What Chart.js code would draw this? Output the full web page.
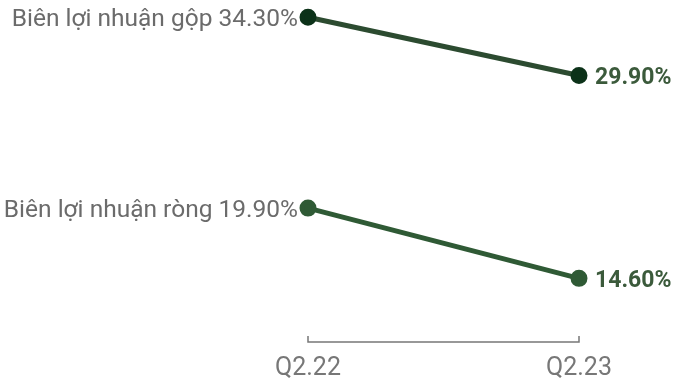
<!DOCTYPE html>
<html>
<head>
<meta charset="utf-8">
<script src="https://cdn.jsdelivr.net/npm/chart.js@4"></script>
<style>
  html, body { margin: 0; padding: 0; background: #fff; }
  #wrap { width: 691px; height: 385px; }
</style>
</head>
<body>
<div id="wrap"><canvas id="slope"></canvas></div>
<script>
const quarters = ["Q2.22", "Q2.23"]
const grossMargin = [34.30, 29.90]
const netMargin = [19.90, 14.60]
const seriesNames = ["Biên lợi nhuận gộp", "Biên lợi nhuận ròng"]

const fmt = v => v.toFixed(2) + "%"

// labels at both ends of each line + bracket-style x axis
const slopeLabels = {
    id: "slopeLabels",
    afterDatasetsDraw(chart) {
        const ctx = chart.ctx
        ctx.save()
        chart.data.datasets.forEach((ds, i) => {
            const pts = chart.getDatasetMeta(i).data
            ctx.textBaseline = "middle"
            ctx.font = "24.5px Roboto"
            ctx.fillStyle = "#6b6b6b"
            ctx.textAlign = "right"
            ctx.fillText(seriesNames[i] + " " + fmt(ds.data[0]), pts[0].x - 10, pts[0].y + 3)
            ctx.font = "bold 23px Roboto"
            ctx.fillStyle = "#3b5a3b"
            ctx.textAlign = "left"
            ctx.fillText(fmt(ds.data[1]), pts[1].x + 16, pts[1].y + 3)
        })
        const x = chart.scales.x
        const y0 = chart.chartArea.bottom
        ctx.strokeStyle = "#777"
        ctx.lineWidth = 1.5
        ctx.beginPath()
        ctx.moveTo(x.getPixelForValue(0), y0 - 6)
        ctx.lineTo(x.getPixelForValue(0), y0)
        ctx.lineTo(x.getPixelForValue(1), y0)
        ctx.lineTo(x.getPixelForValue(1), y0 - 6)
        ctx.stroke()
        ctx.restore()
    }
}

new Chart(document.getElementById("slope").getContext("2d"), {
    type: "line",
    data: {
        labels: quarters,
        datasets: [{
            data: grossMargin,
            borderColor: "#2c4b30",
            backgroundColor: "#0c3219",
            pointBorderColor: "#0c3219",
            borderWidth: 5,
            pointRadius: 6,
            tension: 0,
            clip: false
        }, {
            data: netMargin,
            borderColor: "#2f5a35",
            backgroundColor: "#2f5a35",
            pointBorderColor: "#2f5a35",
            borderWidth: 5,
            pointRadius: 6,
            tension: 0,
            clip: false
        }]
    },
    options: {
        responsive: true,
        maintainAspectRatio: false,
        animation: false,
        layout: { autoPadding: false, padding: { left: 308, right: 112, top: 0, bottom: 0 } },
        plugins: {
            legend: { display: false },
            tooltip: { enabled: false }
        },
        scales: {
            x: {
                offset: false,
                grid: { display: false, drawTicks: false },
                border: { display: false },
                afterFit: s => { s.height = 43 },
                ticks: {
                    color: "#777",
                    padding: 12,
                    maxRotation: 0,
                    font: { family: "Roboto", size: 25 }
                }
            },
            y: {
                display: false,
                min: 9.8,
                max: 35.6
            }
        }
    },
    plugins: [slopeLabels]
});
</script>
</body>
</html>
